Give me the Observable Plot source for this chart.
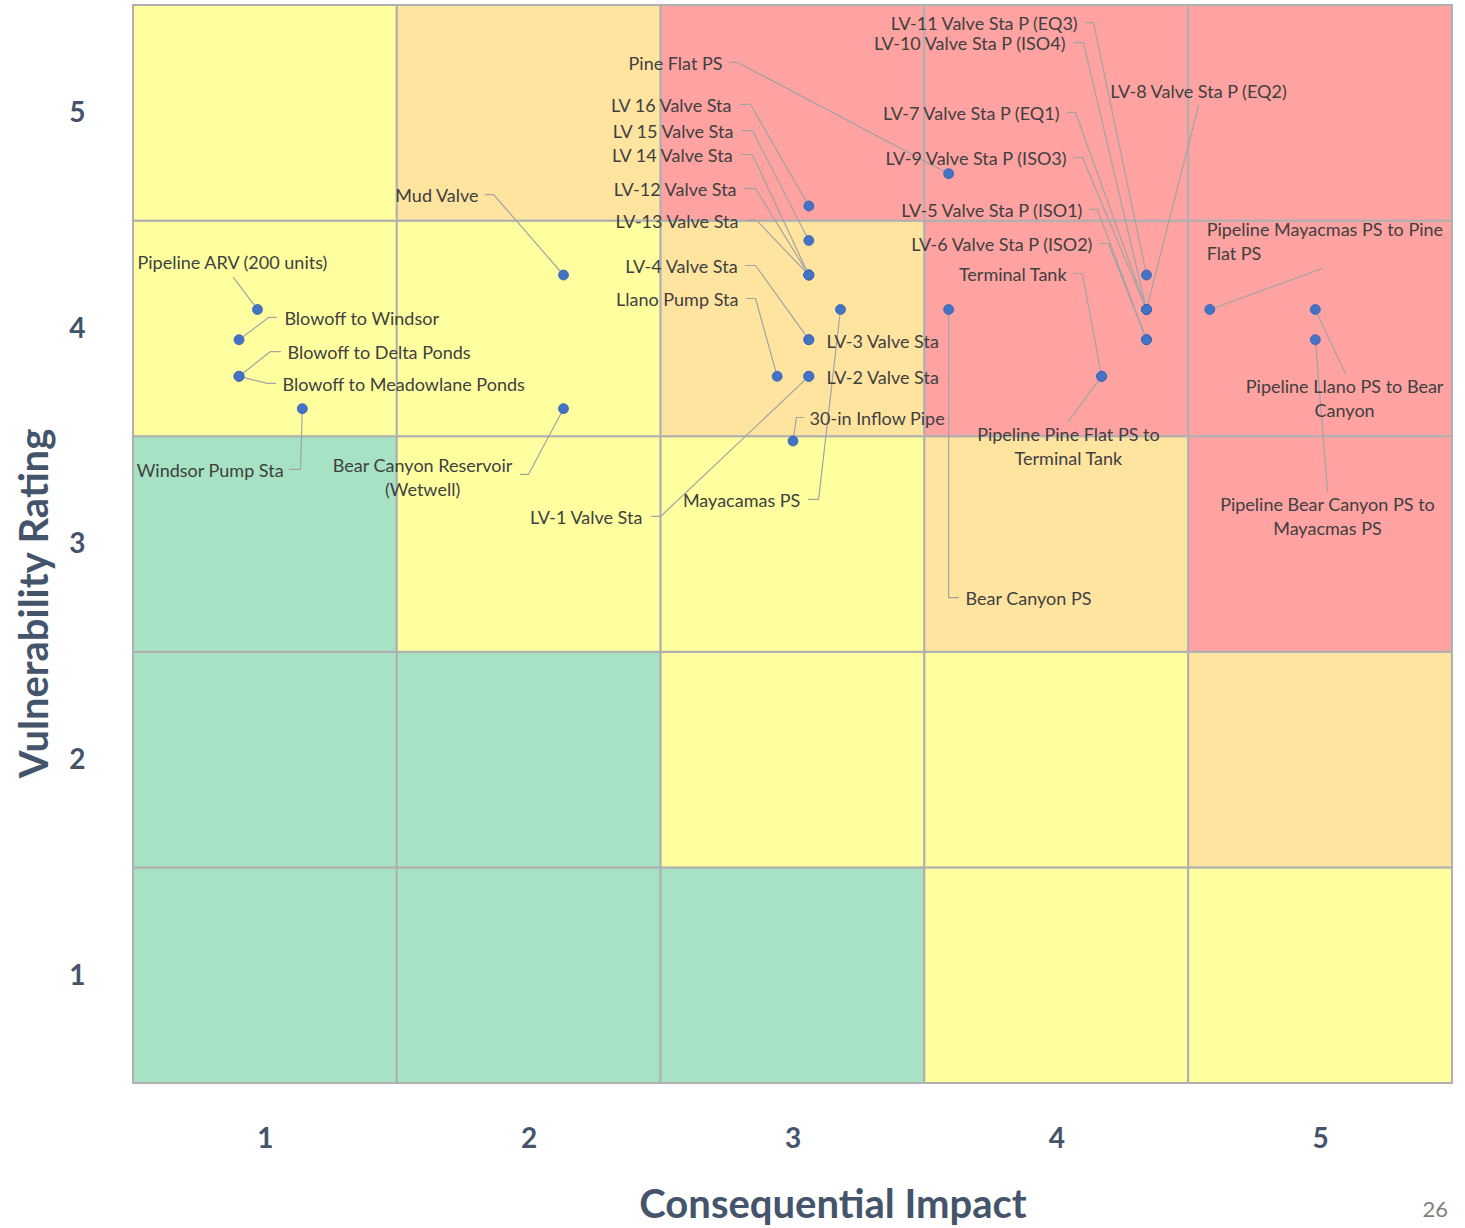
<!DOCTYPE html>
<html>
<head>
<meta charset="utf-8">
<script src="https://cdn.jsdelivr.net/npm/d3@7"></script>
<script src="https://cdn.jsdelivr.net/npm/@observablehq/plot@0.6"></script>
<style>
  html, body { margin: 0; padding: 0; background: #ffffff; }
  #chart svg { display: block; }
</style>
</head>
<body>
<div id="chart"></div>
<script>
// ---- Axes / matrix ----
const impact = [1, 2, 3, 4, 5];
const vulnerability = [1, 2, 3, 4, 5];
// risk level of each cell: rows = vulnerability 1..5, columns = impact 1..5
const riskMatrix = [
  ["low", "low", "low", "medium", "medium"],
  ["low", "low", "medium", "medium", "high"],
  ["low", "medium", "medium", "high", "extreme"],
  ["medium", "medium", "high", "extreme", "extreme"],
  ["medium", "high", "extreme", "extreme", "extreme"]
];
const levels = ["low", "medium", "high", "extreme"];
const levelColors = ["#a7e2c4", "#ffffa0", "#ffe4a0", "#ffa2a2"];

// ---- Assets (points) ----
const assets = [
  "Pipeline ARV (200 units)", "Blowoff to Windsor", "Blowoff to Delta Ponds", "Blowoff to Meadowlane Ponds",
  "Windsor Pump Sta", "Mud Valve", "Bear Canyon Reservoir\n(Wetwell)", "LV 16 Valve Sta", "LV 15 Valve Sta",
  "LV 14 Valve Sta", "LV-12 Valve Sta", "LV-13 Valve Sta", "LV-4 Valve Sta", "Llano Pump Sta", "LV-3 Valve Sta",
  "LV-2 Valve Sta", "LV-1 Valve Sta", "30-in Inflow Pipe", "Mayacamas PS", "Pine Flat PS", "Bear Canyon PS",
  "Terminal Tank", "Pipeline Pine Flat PS to\nTerminal Tank", "LV-11 Valve Sta P (EQ3)", "LV-10 Valve Sta P (ISO4)",
  "LV-8 Valve Sta P (EQ2)", "LV-7 Valve Sta P (EQ1)", "LV-9 Valve Sta P (ISO3)", "LV-5 Valve Sta P (ISO1)",
  "LV-6 Valve Sta P (ISO2)", "Pipeline Mayacmas PS to Pine\nFlat PS", "Pipeline Llano PS to Bear\nCanyon",
  "Pipeline Bear Canyon PS to\nMayacmas PS"
];
const assetImpact = [0.97, 0.90, 0.90, 0.90, 1.14, 2.13, 2.13, 3.06, 3.06, 3.06, 3.06, 3.06, 3.06, 2.94, 3.06,
  3.06, 3.06, 3.00, 3.18, 3.59, 3.59, 4.17, 4.17, 4.34, 4.34, 4.34, 4.34, 4.34, 4.34, 4.34, 4.58, 4.98, 4.98];
const assetVulnerability = [4.09, 3.95, 3.78, 3.78, 3.63, 4.25, 3.63, 4.57, 4.41, 4.25, 4.25, 4.25, 3.95, 3.78, 3.95,
  3.78, 3.78, 3.48, 4.09, 4.72, 4.09, 3.78, 3.78, 4.25, 4.09, 4.09, 4.09, 4.09, 3.95, 3.95, 4.09, 4.09, 3.95];

// ---- Data-label layout (in data units) ----
const labelX = [0.875, 1.072, 1.084, 1.065, 1.069, 1.808, 1.596, 2.767, 2.774, 2.771, 2.786, 2.793, 2.790, 2.793, 3.127,
  3.127, 2.429, 3.063, 3.028, 2.733, 3.654, 4.037, 4.044, 4.079, 4.033, 4.537, 4.010, 4.037, 4.097, 4.135, 4.568, 5.091, 5.026];
const labelY = [4.313, 4.053, 3.895, 3.747, 3.348, 4.623, 3.315, 5.041, 4.920, 4.809, 4.651, 4.503, 4.294, 4.141, 3.946,
  3.779, 3.130, 3.589, 3.209, 5.236, 2.754, 4.257, 3.459, 5.421, 5.328, 5.106, 5.004, 4.795, 4.554, 4.396, 4.410, 3.682, 3.134];
const labelAnchor = ["middle", "start", "start", "start", "end", "end", "middle", "end", "end", "end", "end", "end", "end",
  "end", "start", "start", "end", "start", "end", "end", "start", "end", "middle", "end", "end", "middle", "end", "end",
  "end", "end", "start", "middle", "middle"];
const leadX = [0.879, 1.042, 1.057, 1.038, 1.091, 1.834, 1.967, 2.801, 2.808, 2.805, 2.816, 2.824, 2.820, 2.824, null,
  null, 2.464, 3.040, 3.059, 2.759, 3.627, 4.063, 4.044, 4.109, 4.063, 4.537, 4.041, 4.063, 4.124, 4.162, 5.007, 5.094, 5.026];
const leadY = [4.238, 4.053, 3.895, 3.747, 3.348, 4.623, 3.325, 5.041, 4.920, 4.809, 4.651, 4.503, 4.294, 4.141, null,
  null, 3.130, 3.589, 3.209, 5.236, 2.754, 4.257, 3.571, 5.421, 5.328, 5.036, 5.004, 4.795, 4.554, 4.396, 4.280, 3.793, 3.250];
const elbowX = [null, 1.012, 1.019, 1.008, 1.133, 1.865, 1.997, 2.839, 2.846, 2.846, 2.858, 2.862, 2.858, 2.858, null,
  null, 2.498, 3.013, 3.097, 2.790, 3.590, 4.097, null, 4.139, 4.101, null, 4.071, 4.097, 4.154, 4.196, null, null, null];

// ---- Build tables ----
const cells = [];
vulnerability.forEach((v, i) => impact.forEach((c, j) => cells.push({impact: c, vulnerability: v, level: riskMatrix[i][j]})));

const points = assets.map((name, i) => ({name, impact: assetImpact[i], vulnerability: assetVulnerability[i]}));
const labels = assets.map((name, i) => ({text: name, x: labelX[i], y: labelY[i], anchor: labelAnchor[i]}));
const leaders = [];
assets.forEach((name, i) => {
  if (leadX[i] == null) return;
  leaders.push({id: i, x: leadX[i], y: leadY[i]});
  if (elbowX[i] != null) leaders.push({id: i, x: elbowX[i], y: leadY[i]});
  leaders.push({id: i, x: assetImpact[i], y: assetVulnerability[i]});
});

const FONT = "Lato, 'Open Sans', sans-serif";
const axisColor = "#44546a";
const textStyle = {fontSize: 18, fontFamily: FONT, fill: "#404040", lineAnchor: "middle", lineHeight: 1.33};

const chart = Plot.plot({
  width: 1465,
  height: 1228,
  marginLeft: 133,
  marginRight: 13,
  marginTop: 5,
  marginBottom: 145,
  style: {background: "#ffffff", fontFamily: FONT},
  x: {domain: [0.5, 5.5], label: null},
  y: {domain: [0.5, 5.5], label: null},
  color: {domain: levels, range: levelColors},
  marks: [
    Plot.rect(cells, {
      x1: d => d.impact - 0.5, x2: d => d.impact + 0.5,
      y1: d => d.vulnerability - 0.5, y2: d => d.vulnerability + 0.5,
      fill: "level", stroke: "#b0b0b0", strokeWidth: 2
    }),
    Plot.axisX({ticks: impact, tickSize: 0, tickPadding: 45, fontSize: 28, fontWeight: 700, fontFamily: FONT, fill: axisColor, label: null, tickFormat: d => d}),
    Plot.axisY({ticks: vulnerability, tickSize: 0, tickPadding: 48, fontSize: 28, fontWeight: 700, fontFamily: FONT, fill: axisColor, label: null, tickFormat: d => d}),
    Plot.line(leaders, {x: "x", y: "y", z: "id", stroke: "#a3a3a3", strokeWidth: 1.2}),
    Plot.dot(points, {x: "impact", y: "vulnerability", r: 5, fill: "#4472c4", stroke: "#3a62ad", strokeWidth: 0.8}),
    Plot.text(labels, {filter: d => d.anchor === "end", x: "x", y: "y", text: "text", textAnchor: "end", ...textStyle}),
    Plot.text(labels, {filter: d => d.anchor === "start", x: "x", y: "y", text: "text", textAnchor: "start", ...textStyle}),
    Plot.text(labels, {filter: d => d.anchor === "middle", x: "x", y: "y", text: "text", textAnchor: "middle", ...textStyle}),
    Plot.text(["Consequential Impact"], {frameAnchor: "bottom", textAnchor: "middle", dx: 40, dy: 122, fontSize: 40, fontWeight: 700, fontFamily: FONT, fill: axisColor, lineAnchor: "middle"}),
    Plot.text(["Vulnerability Rating"], {frameAnchor: "left", textAnchor: "middle", dx: -98, dy: 59, rotate: -90, fontSize: 40, fontWeight: 700, fontFamily: FONT, fill: axisColor, lineAnchor: "middle"}),
    Plot.text(["26"], {frameAnchor: "bottom-right", dx: -30, dy: 126, textAnchor: "start", lineAnchor: "middle", fontSize: 22, fontFamily: FONT, fill: "#7f7f7f"})
  ]
});
document.getElementById("chart").appendChild(chart);
</script>
</body>
</html>
